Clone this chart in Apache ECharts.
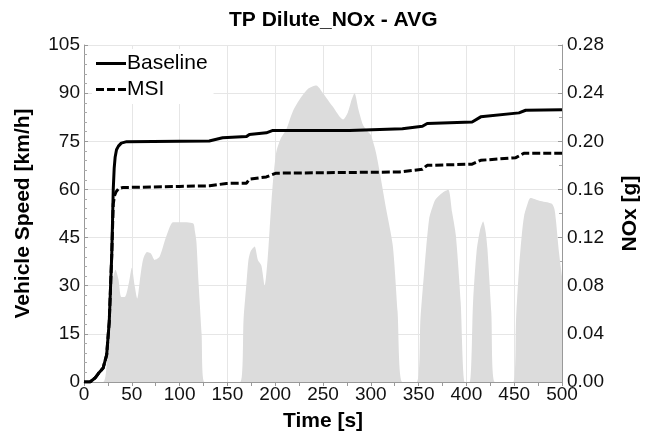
<!DOCTYPE html>
<html>
<head>
<meta charset="utf-8">
<script src="https://cdn.jsdelivr.net/npm/echarts@6/dist/echarts.min.js"></script>
<style>
  html, body { margin: 0; padding: 0; background: #fff; }
  #chart { width: 649px; height: 437px; }
</style>
</head>
<body>
<div id="chart"></div>
<script>
// vehicle speed trace (grey area, left axis)
var speedTime = [0, 20, 25, 29, 33, 36, 39, 43, 47, 50, 53, 55.7, 59, 62, 66, 70, 74, 79, 84.5, 90, 93, 100, 114, 116, 117.6, 120, 123, 126,
  163.5, 167, 170, 172, 174, 176, 178.5, 182, 185.5, 189, 192, 194, 197, 201, 206, 211.6, 218, 225.5, 235, 243, 250, 260, 271, 276, 280, 283, 287, 292, 297, 300, 305, 309, 316, 323, 328, 333,
  348, 352, 356, 361, 365, 368, 375, 381, 385, 389, 394, 398.4,
  403.6, 407, 410.6, 414, 417.5, 420, 422, 426, 429.7,
  449, 452, 455, 458, 460.4, 464, 467, 476, 489, 492, 493.5, 497, 500]
var speedVal = [0, 0, 14, 30, 35, 32, 26.5, 26.6, 31, 35.6, 30, 26, 33, 38.4, 40.5, 40, 38, 39, 44, 48.5, 49.8, 49.8, 49.5, 47, 43.7, 30, 15, 0,
  0, 20, 31, 38, 40.5, 41.5, 42.2, 37.9, 36.3, 30.1, 38, 46.8, 60, 71.4, 76, 78.7, 84, 88, 91.5, 92.4, 90, 85.9, 81.8, 84, 88, 90, 85, 80, 78, 77, 72, 66, 54, 42.5, 22, 0,
  0, 20, 35, 50.8, 55, 57, 59, 59.9, 53, 45.6, 25, 0,
  0, 25, 40.5, 47, 50, 47, 41.5, 22, 0,
  0, 20, 35.3, 46, 51.8, 55.5, 57.3, 56.5, 55.6, 54, 50.8, 40, 33]

// cumulative NOx, Baseline (right axis)
var baseTime = [0, 6.3, 11.5, 15, 20, 23.7, 26.4, 29, 30.6, 31.6, 32.6, 34, 36, 39, 44.6, 100, 131, 145, 170, 173, 190.7, 197.6, 277.7, 333, 354, 359, 406, 415, 455, 462, 500]
var baseNox = [0, 0, 0.0033, 0.007, 0.0116, 0.0226, 0.05, 0.105, 0.16, 0.178, 0.187, 0.193, 0.196, 0.1985, 0.1997, 0.2, 0.2002, 0.203, 0.204, 0.2057, 0.207, 0.209, 0.209, 0.2104, 0.2125, 0.2148, 0.216, 0.2203, 0.2236, 0.2258, 0.2263]

// cumulative NOx, MSI (right axis)
var msiTime = [0, 6.3, 11.5, 15, 20, 23.7, 26.4, 29, 30.6, 32, 33.5, 36, 41, 48, 100, 131.5, 149, 170, 173, 190.7, 201, 267, 330, 354, 359, 406, 415, 451.7, 460, 500]
var msiNox = [0, 0, 0.0033, 0.007, 0.0116, 0.0226, 0.05, 0.105, 0.148, 0.155, 0.158, 0.1605, 0.1617, 0.1617, 0.1625, 0.163, 0.165, 0.1652, 0.1685, 0.1704, 0.1735, 0.174, 0.1745, 0.1768, 0.18, 0.181, 0.1842, 0.1864, 0.19, 0.19]

function pairs(xs, ys) {
  return xs.map(function (x, i) { return [x, ys[i]] })
}

var font = 'Liberation Sans, Arial, sans-serif'
var nameStyle = { fontFamily: font, fontSize: 21, fontWeight: 'bold', color: '#000' }
var chart = echarts.init(document.getElementById('chart'))
chart.setOption({
  animation: false,
  title: {
    text: 'TP Dilute_NOx - AVG',
    left: 224,
    top: 5,
    textStyle: { fontFamily: font, fontSize: 21, fontWeight: 'bold', color: '#000' }
  },
  legend: {
    orient: 'vertical',
    left: 92,
    top: 49,
    itemWidth: 30,
    itemHeight: 3,
    itemGap: 5,
    padding: [4, 6, 4, 4],
    backgroundColor: '#fff',
    textStyle: { fontFamily: font, fontSize: 21, color: '#000', padding: [0, 0, 0, -4] },
    data: [
      { name: 'Baseline', icon: 'path://M0,0h30v3h-30z' },
      { name: 'MSI', icon: 'path://M0,0h8v3h-8zM11,0h8v3h-8zM22,0h8v3h-8z' }
    ]
  },
  grid: { left: 84, right: 86, top: 45, bottom: 53 },
  xAxis: {
    type: 'value',
    min: 0,
    max: 500,
    interval: 50,
    name: 'Time [s]',
    nameLocation: 'middle',
    nameGap: 29,
    nameTextStyle: nameStyle,
    axisLine: { lineStyle: { color: '#999' } },
    axisTick: { show: true, length: 4, lineStyle: { color: '#999' } },
    minorTick: { show: true, splitNumber: 2, length: 4, lineStyle: { color: '#999' } },
    axisLabel: { fontFamily: font, fontSize: 19, color: '#111', margin: 3 },
    splitLine: { show: true, lineStyle: { color: '#e6e6e6' } }
  },
  yAxis: [
    {
      type: 'value',
      min: 0,
      max: 105,
      interval: 15,
      name: 'Vehicle Speed [km/h]',
      nameLocation: 'middle',
      nameGap: 50,
      nameTextStyle: nameStyle,
      axisLine: { show: true, lineStyle: { color: '#999' } },
      axisTick: { show: true, inside: true, length: 4, lineStyle: { color: '#999' } },
      minorTick: { show: true, splitNumber: 5, length: 3, lineStyle: { color: '#aaa' } },
      axisLabel: { fontFamily: font, fontSize: 19, color: '#111', margin: 4 },
      splitLine: { show: true, lineStyle: { color: '#e6e6e6' } }
    },
    {
      type: 'value',
      min: 0,
      max: 0.28,
      interval: 0.04,
      name: 'NOx [g]',
      nameLocation: 'middle',
      nameGap: 58,
      nameTextStyle: nameStyle,
      axisLine: { show: true, lineStyle: { color: '#999' } },
      axisTick: { show: true, inside: true, length: 4, lineStyle: { color: '#999' } },
      minorTick: { show: true, splitNumber: 2, length: 3, lineStyle: { color: '#aaa' } },
      axisLabel: {
        fontFamily: font, fontSize: 19, color: '#111', margin: 5,
        formatter: function (v) { return v.toFixed(2) }
      },
      splitLine: { show: false }
    }
  ],
  series: [
    {
      name: 'Speed',
      type: 'line',
      yAxisIndex: 0,
      data: pairs(speedTime, speedVal),
      symbol: 'none',
      smooth: 0.25,
      lineStyle: { width: 0 },
      areaStyle: { color: '#dcdcdc', opacity: 1 },
      z: 1
    },
    {
      name: 'Baseline',
      type: 'line',
      yAxisIndex: 1,
      data: pairs(baseTime, baseNox),
      symbol: 'none',
      lineStyle: { color: '#000', width: 3 },
      itemStyle: { color: '#000' },
      z: 3
    },
    {
      name: 'MSI',
      type: 'line',
      yAxisIndex: 1,
      data: pairs(msiTime, msiNox),
      symbol: 'none',
      lineStyle: { color: '#000', width: 3, type: [8, 3] },
      itemStyle: { color: '#000' },
      z: 3
    }
  ]
})
</script>
</body>
</html>
